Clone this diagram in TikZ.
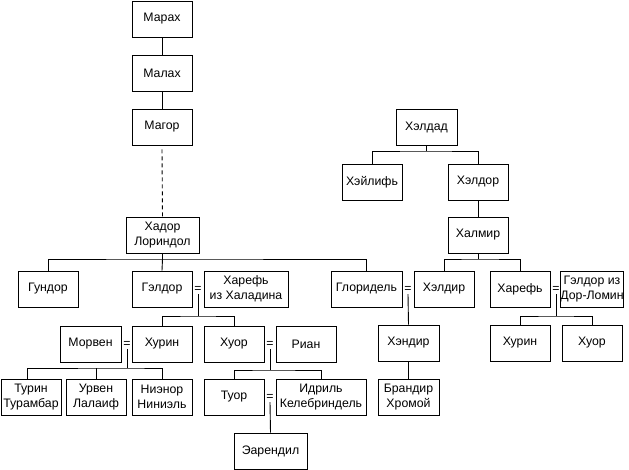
\documentclass[tikz,border=0pt]{standalone}
\usepackage{fontspec}
\setmainfont{Liberation Sans}
\begin{document}
\begin{tikzpicture}[x=1pt,y=-1pt,
  box/.style={draw, line width=0.9pt, minimum width=60pt, minimum height=36pt, inner sep=0pt,
    align=center, font=\fontsize{12.3}{15}\selectfont},
  eqs/.style={inner sep=0pt, font=\fontsize{12.3}{15}\selectfont},
  ln/.style={line width=0.9pt}]
\useasboundingbox (0,0) rectangle (629,470);
% left line
\node[box] (marakh) at (162,19) {Марах};
\node[box] (malakh) at (162,73) {Малах};
\node[box] (magor) at (162,127) {Магор};
\node[box, minimum width=73pt] (hador) at (162.5,235) {Хадор\\Лориндол};
\node[box] (gundor) at (48,289) {Гундор};
\node[box] (gaeldor) at (162,289) {Гэлдор};
\node[eqs] (eq1) at (198,289) {=};
\node[box, minimum width=84pt] (kharefkh) at (246,289) {Харефь\\из Халадина};
\node[box, minimum width=61pt] (morven) at (90.5,344) {Морвен};
\node[eqs] (eq2) at (127,344) {=};
\node[box] (khurin1) at (162,344) {Хурин};
\node[box] (khuor1) at (234,344) {Хуор};
\node[eqs] (eq3) at (270,344) {=};
\node[box] (rian) at (306,344) {Риан};
\node[box] (turin) at (31,397) {Турин\\Турамбар};
\node[box] (urven) at (96,397) {Урвен\\Лалаиф};
\node[box] (niznor) at (162,397) {Ниэнор\\Ниниэль};
\node[box] (tuor) at (234,397) {Туор};
\node[eqs] (eq4) at (270,397) {=};
\node[box, minimum width=90pt] (idril) at (321,397) {Идриль\\Келебриндель};
\node[box, minimum width=73pt] (earendil) at (270.5,451) {Эарендил};
\node[box, minimum width=71pt] (gloridel) at (366.5,289) {Глоридель};
\node[eqs] (eq5) at (408,289) {=};
\node[box, minimum width=61pt] (khendir) at (408.5,343) {Хэндир};
\node[box, minimum width=61pt] (brandir) at (408.5,397) {Брандир\\Хромой};
% right line
\node[box, minimum width=61pt] (kheldad) at (426.5,127) {Хэлдад};
\node[box] (kheilif) at (372,182) {Хэйлифь};
\node[box] (kheldor) at (478,182) {Хэлдор};
\node[box] (khalmir) at (478,235) {Халмир};
\node[box] (kheldir) at (444,289) {Хэлдир};
\node[box] (kharef) at (520,289) {Харефь};
\node[eqs] (eq6) at (556,289) {=};
\node[box] (gaeldordl) at (592,289) {Гэлдор из\\Дор-Ломин};
\node[box] (khurin2) at (520,343) {Хурин};
\node[box] (khuor2) at (592,343) {Хуор};
% connectors
\draw[ln] (marakh) -- (malakh);
\draw[ln] (malakh) -- (magor);
\draw[ln, dashed, dash pattern=on 4pt off 3pt] ([yshift=-4pt]magor.south) -- (hador.north);
\coordinate (hbar) at (162.5,259);
\draw[ln] (hador.south) -- (hbar);
\draw[ln] (gundor.north) |- (hbar) -| (gloridel.north);
\draw[ln] (hbar) -- (gaeldor.north);
% Gaeldor = Kharef
\coordinate (b1) at (198,316);
\draw[ln] ([yshift=-2pt]eq1.south) -- (b1);
\draw[ln] (khurin1.north) |- (b1) -| (khuor1.north);
% Morven = Khurin
\coordinate (b2) at (127,368);
\draw[ln] ([yshift=-2pt]eq2.south) -- (b2);
\draw[ln] ([xshift=-4pt]turin.north) |- (b2) -| (niznor.north);
\draw[ln] (urven.north) -- (urven.north |- b2);
% Khuor = Rian
\coordinate (b3) at (270,370);
\draw[ln] ([yshift=-2pt]eq3.south) -- (b3);
\draw[ln] (tuor.north) |- (b3) -| (idril.north);
% Tuor = Idril
\draw[ln] ([yshift=-2pt]eq4.south) -- (earendil.north);
% Gloridel = Kheldir
\draw[ln] ([yshift=-2pt]eq5.south) -- (khendir.north);
\draw[ln] (khendir) -- (brandir);
% Kheldad
\coordinate (b4) at (426.5,151);
\draw[ln] (kheldad.south) -- (b4);
\draw[ln] (kheilif.north) |- (b4) -| (kheldor.north);
\draw[ln] (kheldor) -- (khalmir);
\coordinate (b5) at (478,259);
\draw[ln] (khalmir.south) -- (b5);
\draw[ln] (kheldir.north) |- (b5) -| (kharef.north);
% Kharef = Gaeldor
\coordinate (b6) at (556,316);
\draw[ln] ([yshift=-2pt]eq6.south) -- (b6);
\draw[ln] (khurin2.north) |- (b6) -| (khuor2.north);
\end{tikzpicture}
\end{document}
